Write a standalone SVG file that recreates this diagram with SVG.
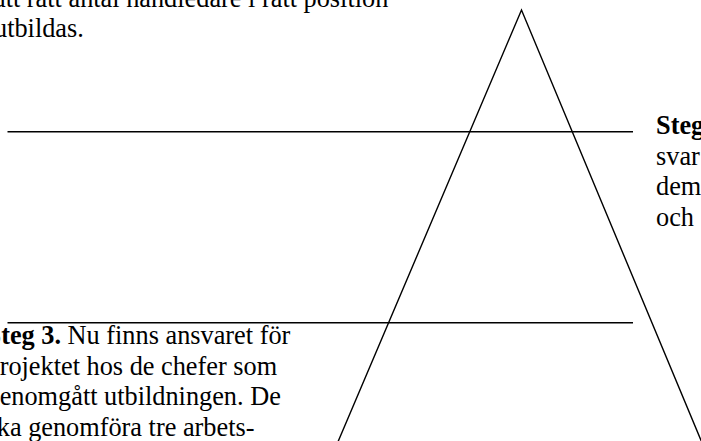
<svg xmlns="http://www.w3.org/2000/svg" width="701" height="441" viewBox="0 0 701 441">
  <style>
    .ln { fill: none; stroke: #000; stroke-width: 1.4; stroke-linejoin: miter; }
    .t { font-family: "Liberation Serif", "Times New Roman", serif; font-size: 26.3px; fill: #000; }
    .b { font-weight: bold; }
  </style>
  <rect width="701" height="441" fill="#fff"/>
  <g id="pyramid">
    <polyline class="ln" points="334.5,450 521.5,10 705,450"/>
    <line class="ln" x1="7.5" y1="131.7" x2="633" y2="131.7"/>
    <line class="ln" x1="7.5" y1="322.7" x2="633" y2="322.7"/>
  </g>
  <g id="text-top-left">
    <text class="t" x="-6" y="6.5">att rätt antal handledare i rätt position</text>
    <text class="t" x="-6" y="37.2">utbildas.</text>
  </g>
  <g id="text-right">
    <text class="t b" x="656" y="134">Steg</text>
    <text class="t" x="656" y="164.7">svar</text>
    <text class="t" x="656" y="195.4">dem</text>
    <text class="t" x="656" y="226.1">och</text>
  </g>
  <g id="text-bottom-left">
    <text class="t" x="-13.5" y="344"><tspan class="b">Steg 3.</tspan> Nu finns ansvaret för</text>
    <text class="t" x="-13.5" y="374.7">projektet hos de chefer som</text>
    <text class="t" x="-13.5" y="405.4">genomgått utbildningen. De</text>
    <text class="t" x="-13.5" y="436.1">ska genomföra tre arbets-</text>
  </g>
</svg>
